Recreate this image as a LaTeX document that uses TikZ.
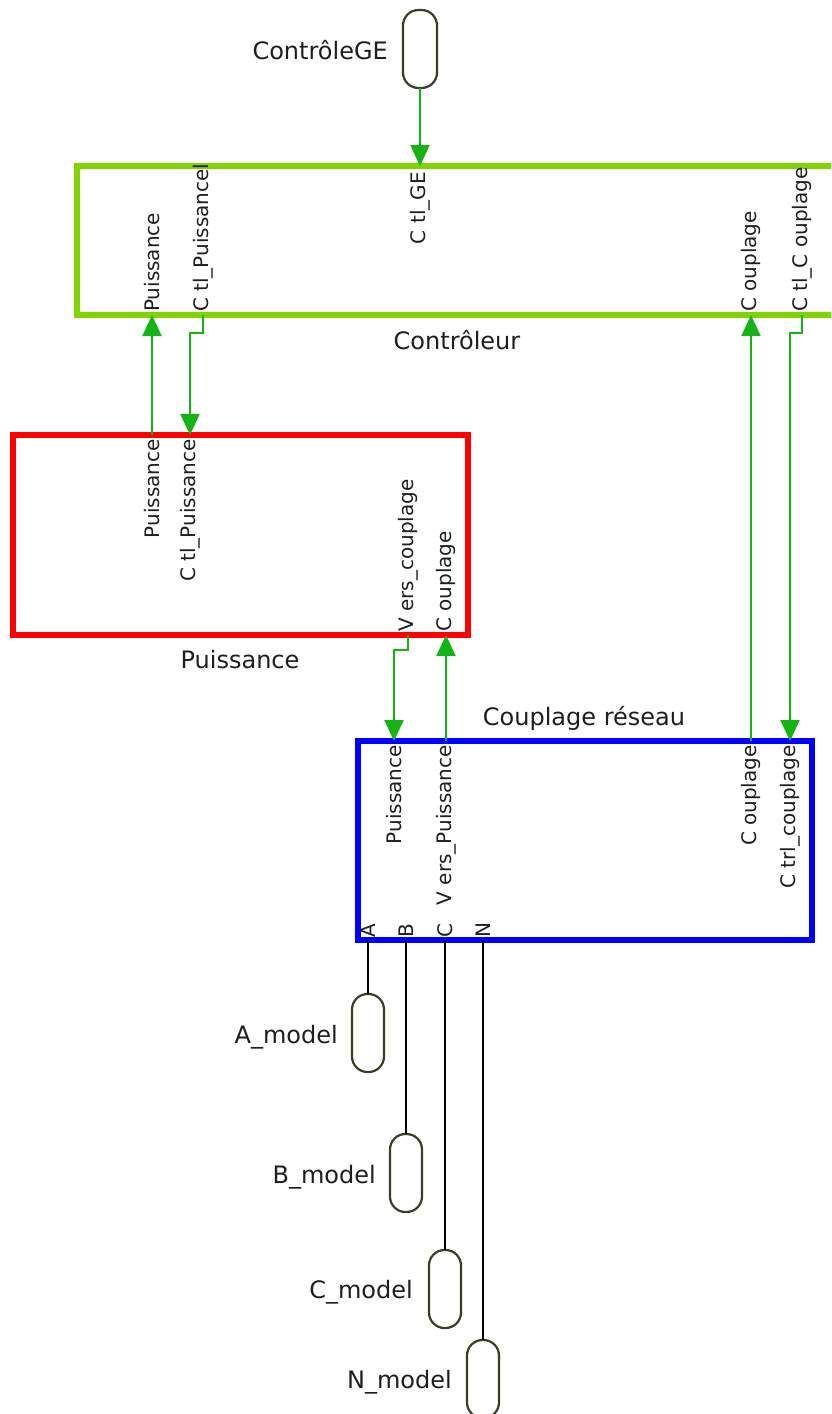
\documentclass[tikz,border=0pt]{standalone}
\usepackage{fontspec}
\setmainfont{DejaVu Sans}
\usetikzlibrary{arrows.meta}
\definecolor{boxgreen}{RGB}{128,212,0}
\definecolor{wiregreen}{RGB}{20,180,20}
\definecolor{boxred}{RGB}{255,0,0}
\definecolor{boxblue}{RGB}{0,0,255}
\definecolor{portgray}{RGB}{60,60,40}
\definecolor{txt}{RGB}{30,30,30}
\begin{document}
\begin{tikzpicture}[x=1pt,y=-1pt,
  block/.style={draw, line width=6pt, inner sep=0pt, outer sep=0pt},
  portcap/.style={draw=portgray, line width=2.2pt, fill=white, rounded corners=15.5pt,
    minimum width=32pt, minimum height=78pt, inner sep=0pt, outer sep=0pt},
  title/.style={font=\fontsize{24}{28}\selectfont, text=txt, inner sep=1pt},
  plab/.style={font=\fontsize{20}{24}\selectfont, text=txt, rotate=90, inner sep=1pt},
  wire/.style={draw=wiregreen, line width=2.2pt, -{Triangle[length=21pt,width=19pt]}},
  bwire/.style={draw=black, line width=1.8pt}]
\useasboundingbox (0,0) rectangle (831,1414);
\clip (0,0) rectangle (831,1414);

% blocks
\node[block, draw=boxgreen, minimum width=803pt, minimum height=149pt] (ctrl) at (478.5,240.5) {};
\node[block, draw=boxred, minimum width=455pt, minimum height=200pt] (puis) at (240.5,535) {};
\node[block, draw=boxblue, minimum width=454pt, minimum height=199pt] (coup) at (585,840.5) {};

% block titles
\node[title] (ctrltitle) at (457,340) {Contrôleur};
\node[title] (puistitle) at (240,660) {Puissance};
\node[title] (couptitle) at (584,718) {Couplage réseau};

% external ports
\node[portcap, minimum width=34pt] (ctlge) at (420,49) {};
\node[title, anchor=east] (ctlgelab) at (389,50) {ContrôleGE};
\node[portcap] (amod) at (368,1033) {};
\node[title, anchor=east] (amodlab) at (339,1037) {A\_model};
\node[portcap] (bmod) at (406,1173) {};
\node[title, anchor=east] (bmodlab) at (377,1177) {B\_model};
\node[portcap] (cmod) at (445,1289) {};
\node[title, anchor=east] (cmodlab) at (414,1292) {C\_model};
\node[portcap] (nmod) at (483,1379) {};
\node[title, anchor=east] (nmodlab) at (453,1382) {N\_model};

% port points
\coordinate (c_ge) at (420,166);
\coordinate (c_p) at (152,315);
\coordinate (c_ctp) at (203,315);
\coordinate (c_cpl) at (751,315);
\coordinate (c_ctc) at (802,315);
\coordinate (p_p) at (152,435);
\coordinate (p_ctp) at (190,435);
\coordinate (p_vc) at (408,635);
\coordinate (p_cpl) at (446,635);
\coordinate (r_p) at (394,741);
\coordinate (r_vp) at (446,741);
\coordinate (r_cpl) at (751,741);
\coordinate (r_ctc) at (790,741);
\coordinate (r_a) at (368,940);
\coordinate (r_b) at (406,940);
\coordinate (r_c) at (445,940);
\coordinate (r_n) at (483,940);

% port labels: Contrôleur
\node[plab, anchor=west] (lc1) at (152,313) {Puissance};
\node[plab, anchor=west] (lc2) at (203,313) {C tl\_Puissancel};
\node[plab, anchor=east] (lc3) at (420,171) {C tl\_GE};
\node[plab, anchor=west] (lc4) at (751,313) {C ouplage};
\node[plab, anchor=west] (lc5) at (802,313) {C tl\_C ouplage};
% port labels: Puissance
\node[plab, anchor=east] (lp1) at (152,438) {Puissance};
\node[plab, anchor=east] (lp2) at (190,438) {C tl\_Puissance};
\node[plab, anchor=west] (lp3) at (408,633) {V ers\_couplage};
\node[plab, anchor=west] (lp4) at (446,633) {C ouplage};
% port labels: Couplage réseau
\node[plab, anchor=east] (lr1) at (394,744) {Puissance};
\node[plab, anchor=east] (lr2) at (446,744) {V ers\_Puissance};
\node[plab, anchor=east] (lr3) at (751,744) {C ouplage};
\node[plab, anchor=east] (lr4) at (790,744) {C trl\_couplage};
\node[plab, anchor=west] (lra) at (368,939) {A};
\node[plab, anchor=west] (lrb) at (406,939) {B};
\node[plab, anchor=west] (lrc) at (445,939) {C};
\node[plab, anchor=west] (lrn) at (483,939) {N};

% green connectors
\draw[wire] (ctlge.south) -- (c_ge);
\draw[wire] (p_p) -- (c_p);
\draw[wire] (c_ctp) -- ++(0,18) -| (p_ctp);
\draw[wire] (p_vc) -- ++(0,15) -| (r_p);
\draw[wire] (r_vp) -- (p_cpl);
\draw[wire] (r_cpl) -- (c_cpl);
\draw[wire] (c_ctc) -- ++(0,18) -| (r_ctc);

% black connectors
\draw[bwire] (r_a) -- (amod.north);
\draw[bwire] (r_b) -- (bmod.north);
\draw[bwire] (r_c) -- (cmod.north);
\draw[bwire] (r_n) -- (nmod.north);
\end{tikzpicture}
\end{document}
